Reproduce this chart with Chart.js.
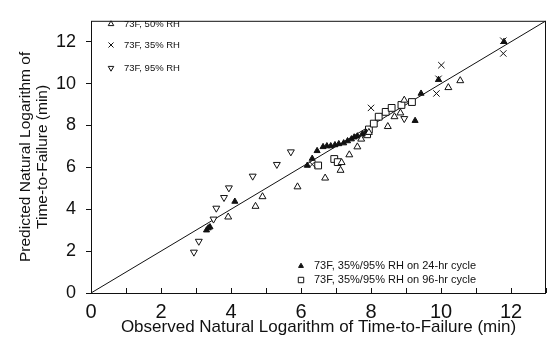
<!DOCTYPE html>
<html>
<head>
<meta charset="utf-8">
<script src="https://cdn.jsdelivr.net/npm/chart.js@4.4.0/dist/chart.umd.min.js"></script>
<style>
  html, body { margin: 0; padding: 0; background: #fff; }
  #wrap { width: 553px; height: 340px; }
</style>
</head>
<body>
<div id="wrap"><canvas id="chart"></canvas></div>
<script>
// 73F, 50% RH (open up-triangles)
const rh50X = [3.92, 4.70, 4.90, 5.90, 6.69, 7.13, 7.16, 7.38, 7.61, 7.72, 7.94, 8.48, 8.67, 8.84, 8.95, 10.21, 10.55];
const rh50Y = [3.63, 4.14, 4.60, 5.07, 5.49, 5.86, 6.23, 6.60, 6.98, 7.35, 7.67, 7.95, 8.42, 8.60, 9.21, 9.81, 10.14];
// 73F, 35% RH (crosses)
const rh35X = [6.32, 8.00, 9.87, 9.93, 10.01, 11.78, 11.78];
const rh35Y = [6.14, 8.84, 9.53, 10.23, 10.88, 12.05, 11.44];
// 73F, 95% RH (open down-triangles)
const rh95X = [2.94, 3.08, 3.50, 3.58, 3.80, 3.94, 4.62, 5.31, 5.71, 8.95];
const rh95Y = [1.95, 2.47, 3.53, 4.05, 4.56, 5.02, 5.58, 6.14, 6.74, 8.33];
// 73F, 35%/95% RH on 24-hr cycle (filled triangles)
const c24X = [3.30, 3.35, 3.40, 4.11, 6.18, 6.32, 6.46, 6.63, 6.74, 6.85, 6.97, 7.08, 7.22, 7.33, 7.44, 7.52, 7.61, 7.75, 7.86, 9.26, 9.43, 9.93, 11.80];
const c24Y = [3.00, 3.10, 3.15, 4.37, 6.09, 6.42, 6.79, 6.98, 7.02, 7.02, 7.07, 7.12, 7.16, 7.26, 7.35, 7.44, 7.49, 7.58, 7.67, 8.23, 9.53, 10.19, 12.00];
// 73F, 35%/95% RH on 96-hr cycle (open squares)
const c96X = [6.49, 6.95, 7.05, 7.89, 7.94, 8.08, 8.22, 8.42, 8.59, 8.87, 9.17];
const c96Y = [6.09, 6.40, 6.25, 7.58, 7.81, 8.09, 8.42, 8.65, 8.84, 8.98, 9.12];
// line of perfect agreement
const lineX = [0, 13];
const lineY = [0, 13];

const topLegend = ['73F, 50% RH', '73F, 35% RH', '73F, 95% RH'];
const bottomLegend = ['73F, 35%/95% RH on 24-hr cycle', '73F, 35%/95% RH on 96-hr cycle'];

const pts = (xs, ys) => xs.map((x, i) => ({ x: x, y: ys[i] }));
const FONT = '"Liberation Sans", Arial, sans-serif';

const datasets = [
    { label: topLegend[0], data: pts(rh50X, rh50Y), pointStyle: 'triangle', pointRadius: 4, rotation: 0,
      borderColor: '#111', backgroundColor: '#fff', pointBorderWidth: 1 },
    { label: topLegend[1], data: pts(rh35X, rh35Y), pointStyle: 'crossRot', pointRadius: 4.5, rotation: 0,
      borderColor: '#111', backgroundColor: '#fff', pointBorderWidth: 1 },
    { label: topLegend[2], data: pts(rh95X, rh95Y), pointStyle: 'triangle', pointRadius: 4, rotation: 180,
      borderColor: '#111', backgroundColor: '#fff', pointBorderWidth: 1 },
    { label: bottomLegend[0], data: pts(c24X, c24Y), pointStyle: 'triangle', pointRadius: 3.5, rotation: 0,
      borderColor: '#111', backgroundColor: '#111', pointBorderWidth: 1 },
    { label: bottomLegend[1], data: pts(c96X, c96Y), pointStyle: 'rect', pointRadius: 4.8, rotation: 0,
      borderColor: '#111', backgroundColor: '#fff', pointBorderWidth: 1 },
    { type: 'line', label: 'fit', data: pts(lineX, lineY), borderColor: '#111', borderWidth: 1,
      pointRadius: 0, fill: false, order: 10 }
];

// frame, inward x ticks and the two in-plot legends
const framePlugin = {
    id: 'frame',
    afterDraw: (chart) => {
        const ctx = chart.ctx;
        const a = chart.chartArea;
        const xs = chart.scales.x;
        ctx.save();
        ctx.strokeStyle = '#111';
        ctx.lineWidth = 1;
        ctx.strokeRect(a.left + 0.5, a.top + 0.5, a.right - a.left - 1, a.bottom - a.top);
        ctx.beginPath();
        for (let v = 0; v <= 13; v++) {
            const px = Math.round(xs.getPixelForValue(v)) + 0.5;
            ctx.moveTo(px, a.bottom);
            ctx.lineTo(px, a.bottom - 5);
        }
        ctx.stroke();

        const sets = chart.data.datasets;
        const drawRow = (ds, x, y, text, size) => {
            Chart.helpers.drawPoint(ctx, {
                pointStyle: ds.pointStyle, radius: ds.pointRadius * 0.8,
                rotation: ds.rotation, borderWidth: 1
            }, x, y);
            ctx.fillStyle = '#111';
            ctx.font = size + 'px ' + FONT;
            ctx.textBaseline = 'middle';
            ctx.textAlign = 'left';
            ctx.fillText(text, x + 13, y);
        };
        const style = (ds) => { ctx.strokeStyle = ds.borderColor; ctx.fillStyle = ds.backgroundColor; };
        const topY = [24, 45, 68];
        for (let i = 0; i < 3; i++) {
            style(sets[i]);
            drawRow(sets[i], 111, topY[i], topLegend[i], 9.5);
        }
        const botY = [266, 280];
        for (let i = 0; i < 2; i++) {
            style(sets[3 + i]);
            drawRow(sets[3 + i], 301, botY[i], bottomLegend[i], 11);
        }
        ctx.restore();
    }
};

new Chart(document.getElementById('chart').getContext('2d'), {
    type: 'scatter',
    data: { datasets: datasets },
    plugins: [framePlugin],
    options: {
        responsive: true,
        maintainAspectRatio: false,
        animation: false,
        layout: { padding: { top: 14, right: 1, left: 18, bottom: 0 } },
        plugins: { legend: { display: false }, tooltip: { enabled: false } },
        scales: {
            x: {
                type: 'linear', min: 0, max: 13,
                afterFit: (s) => { s.height = 47; },
                grid: { display: false, drawTicks: false },
                border: { display: false },
                ticks: {
                    stepSize: 1, padding: 7, color: '#111',
                    font: { family: FONT, size: 20 },
                    callback: (v) => (v % 2 === 0 ? v : '')
                },
                title: {
                    display: true, text: 'Observed Natural Logarithm of Time-to-Failure (min)',
                    color: '#111', font: { family: FONT, size: 17 }, padding: { top: 0, bottom: 2 }
                }
            },
            y: {
                type: 'linear', min: 0, max: 13,
                afterFit: (s) => { s.width = 73; },
                grid: { drawOnChartArea: false, drawTicks: true, tickLength: 5, color: '#111' },
                border: { display: false },
                ticks: {
                    stepSize: 1, padding: 10, color: '#111',
                    font: { family: FONT, size: 18 },
                    callback: (v) => (v % 2 === 0 ? v : '')
                },
                title: {
                    display: true, text: ['Predicted Natural Logarithm of', 'Time-to-Failure (min)'],
                    color: '#111', font: { family: FONT, size: 15.5, lineHeight: 1.05 }, padding: { top: 0, bottom: 0 }
                }
            }
        }
    }
});
</script>
</body>
</html>
